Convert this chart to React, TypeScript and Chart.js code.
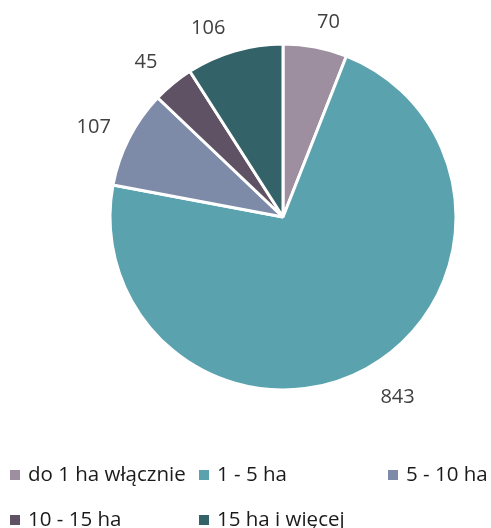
import React, { useEffect, useRef } from "react";
import { Chart, registerables } from "chart.js";

Chart.register(...registerables);

const categories = ["do 1 ha włącznie", "1 - 5 ha", "5 - 10 ha", "10 - 15 ha", "15 ha i więcej"];
const values = [70, 843, 107, 45, 106];
const colors = ["#9D8FA0", "#5AA3AE", "#7E8BA8", "#5F5264", "#336369"];

const FONT = "'Open Sans', 'Noto Sans', 'Liberation Sans', sans-serif";

// small nudges applied to the outside data labels (Excel "best fit" style)
const labelNudge: [number, number][] = [
  [7, 8],
  [15, 0],
  [-6, 4],
  [-6, 4],
  [-17, 9],
];

const labelPlugin = {
  id: "outsideLabels",
  afterDatasetsDraw(chart: any) {
    const ctx = chart.ctx;
    const meta = chart.getDatasetMeta(0);
    ctx.save();
    ctx.fillStyle = "#404040";
    ctx.font = `20px ${FONT}`;
    ctx.textAlign = "center";
    ctx.textBaseline = "middle";
    meta.data.forEach((arc: any, i: number) => {
      const { x, y, startAngle, endAngle, outerRadius } = arc.getProps(
        ["x", "y", "startAngle", "endAngle", "outerRadius"],
        true
      );
      const mid = (startAngle + endAngle) / 2;
      const r = outerRadius + 33;
      const [nx, ny] = labelNudge[i] || [0, 0];
      ctx.fillText(String(values[i]), x + Math.cos(mid) * r + nx, y + Math.sin(mid) * r + ny);
    });
    ctx.restore();
  },
};

const legendPlugin = {
  id: "gridLegend",
  afterDraw(chart: any) {
    const ctx = chart.ctx;
    const colX = [10, 199, 388];
    const rowY = [475, 520];
    ctx.save();
    ctx.font = `20.5px ${FONT}`;
    ctx.textBaseline = "middle";
    ctx.textAlign = "left";
    categories.forEach((c, i) => {
      const col = i % 3;
      const row = Math.floor(i / 3);
      const x = colX[col];
      const y = rowY[row];
      ctx.fillStyle = colors[i];
      ctx.fillRect(x, y - 5, 10, 10);
      ctx.fillStyle = "#1a1a1a";
      ctx.fillText(c, x + 18, y);
    });
    ctx.restore();
  },
};

export default function App() {
  const ref = useRef<HTMLCanvasElement | null>(null);
  useEffect(() => {
    if (!ref.current) return;
    const chart = new Chart(ref.current, {
      type: "pie",
      data: {
        labels: categories,
        datasets: [
          {
            data: values,
            backgroundColor: colors,
            borderColor: "#ffffff",
            borderWidth: 3,
            hoverOffset: 0,
            radius: 173,
          } as any,
        ],
      },
      options: {
        animation: false,
        responsive: true,
        maintainAspectRatio: false,
        layout: { padding: { left: 110, right: 35, top: 44, bottom: 138 } },
        plugins: {
          legend: { display: false },
          tooltip: { enabled: false },
        },
      },
      plugins: [labelPlugin, legendPlugin],
    });
    return () => chart.destroy();
  }, []);
  return (
    <div style={{ position: "fixed", left: 0, top: 0, width: 491, height: 528, background: "#fff" }}>
      <canvas ref={ref} />
    </div>
  );
}
